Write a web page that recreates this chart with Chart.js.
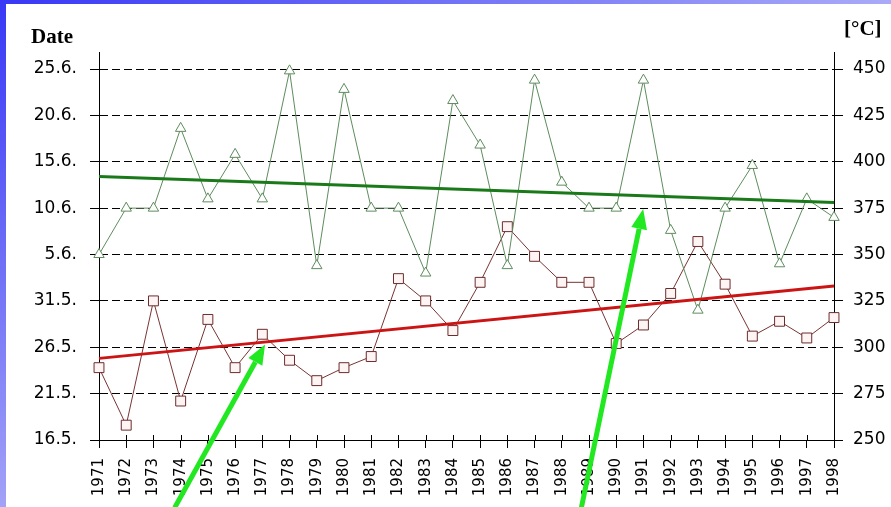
<!DOCTYPE html>
<html>
<head>
<meta charset="utf-8">
<script src="https://cdn.jsdelivr.net/npm/chart.js@4.4.1/dist/chart.umd.min.js"></script>
<style>
  html, body { margin: 0; padding: 0; background: #ffffff; }
  #wrap { position: relative; width: 891px; height: 507px; }
  canvas { display: block; }
</style>
</head>
<body>
<div id="wrap"><canvas id="c" width="891" height="507"></canvas></div>
<script>
// ---- data ----
const years = [1971,1972,1973,1974,1975,1976,1977,1978,1979,1980,1981,1982,1983,1984,
               1985,1986,1987,1988,1989,1990,1991,1992,1993,1994,1995,1996,1997,1998];
// green triangles (right axis, °C scale)
const greenValues = [350,375,375,418,380,404,380,449,344,439,375,375,340,433,
                     409,344,444,389,375,375,444,363,320,375,398,345,380,370];
// red squares
const redValues = [289,258,325,271,315,289,307,293,282,289,295,337,325,309,
                   335,365,349,335,335,302,312,329,357,334,306,314,305,316];
// linear trend lines (start, end)
const trendYears = [1971, 1998];
const greenTrend = [392, 378];
const redTrend = [294, 333];
// axis ticks
const rightTickValues = [250,275,300,325,350,375,400,425,450];
const leftTickLabels = ["16.5.","21.5.","26.5.","31.5.","5.6.","10.6.","15.6.","20.6.","25.6."];
// annotation arrows: [tailYear, tailValue, tipYear, tipValue]
const arrows = [
  [1973.78, 213.5, 1977.1, 301.5],
  [1988.72, 213.5, 1990.99, 374.5]
];

const pts = (xs, ys) => xs.map((x, i) => ({x: x, y: ys[i]}));

const framePlugin = {
  id: 'frame',
  beforeDraw(chart) {
    const ctx = chart.ctx;
    ctx.save();
    ctx.fillStyle = '#ffffff';
    ctx.fillRect(0, 0, chart.width, chart.height);
    let g = ctx.createLinearGradient(0, 0, 0, chart.height);
    g.addColorStop(0, '#3838f6');
    g.addColorStop(1, '#a2a2f8');
    ctx.fillStyle = g;
    ctx.fillRect(0, 0, 6, chart.height);
    g = ctx.createLinearGradient(0, 0, chart.width, 0);
    g.addColorStop(0, '#3838f6');
    g.addColorStop(1, '#aaaaf8');
    ctx.fillStyle = g;
    ctx.fillRect(0, 0, chart.width, 4);
    ctx.restore();
  },
  afterDraw(chart) {
    const ctx = chart.ctx;
    const xs = chart.scales.x, ys = chart.scales.y;
    const a = chart.chartArea;
    ctx.save();
    // axis extensions above plot
    ctx.strokeStyle = '#000';
    ctx.lineWidth = 1;
    ctx.beginPath();
    ctx.moveTo(a.left + 0.5, a.top - 17); ctx.lineTo(a.left + 0.5, a.top);
    ctx.moveTo(a.right + 0.5, a.top - 17); ctx.lineTo(a.right + 0.5, a.top);
    // inner parts of x ticks
    years.forEach(yr => {
      const px = Math.round(xs.getPixelForValue(yr)) + 0.5;
      ctx.moveTo(px, a.bottom - 5); ctx.lineTo(px, a.bottom);
    });
    ctx.stroke();
    // titles
    ctx.fillStyle = '#000';
    ctx.font = 'bold 21px "Liberation Serif", "Times New Roman", serif';
    ctx.textBaseline = 'alphabetic';
    ctx.textAlign = 'left';
    ctx.fillText('Date', 31, 43);
    ctx.fillText('[°C]', 844, 35);
    // arrows
    ctx.strokeStyle = '#22e822';
    ctx.fillStyle = '#22e822';
    ctx.lineWidth = 5;
    arrows.forEach(ar => {
      const x1 = xs.getPixelForValue(ar[0]), y1 = ys.getPixelForValue(ar[1]);
      const x2 = xs.getPixelForValue(ar[2]), y2 = ys.getPixelForValue(ar[3]);
      const ang = Math.atan2(y2 - y1, x2 - x1);
      const hl = 20, hw = 8;
      const bx = x2 - hl * Math.cos(ang), by = y2 - hl * Math.sin(ang);
      ctx.beginPath();
      ctx.moveTo(x1, y1); ctx.lineTo(bx, by);
      ctx.stroke();
      ctx.beginPath();
      ctx.moveTo(x2, y2);
      ctx.lineTo(bx + hw * Math.sin(ang), by - hw * Math.cos(ang));
      ctx.lineTo(bx - hw * Math.sin(ang), by + hw * Math.cos(ang));
      ctx.closePath();
      ctx.fill();
    });
    ctx.restore();
  }
};

new Chart(document.getElementById('c'), {
  type: 'line',
  data: {
    datasets: [
      { label: 'green trend', data: pts(trendYears, greenTrend), borderColor: '#1a7a1a',
        borderWidth: 3, pointRadius: 0, order: 0, clip: false },
      { label: 'red trend', data: pts(trendYears, redTrend), borderColor: '#cc1414',
        borderWidth: 3, pointRadius: 0, order: 0, clip: false },
      { label: 'green', data: pts(years, greenValues), borderColor: '#5e8c5e', borderWidth: 1,
        pointStyle: 'triangle', pointRadius: 6, pointBorderColor: '#5e8c5e',
        pointBackgroundColor: '#ffffff', pointBorderWidth: 1, order: 1, clip: false },
      { label: 'red', data: pts(years, redValues), borderColor: '#7a3434', borderWidth: 1,
        pointStyle: 'rect', pointRadius: 7, pointBorderColor: '#6a2c2c',
        pointBackgroundColor: '#fff4f4', pointBorderWidth: 1, order: 1, clip: false }
    ]
  },
  options: {
    responsive: false,
    animation: false,
    events: [],
    layout: { padding: { top: 69, left: 0, right: 0, bottom: 0 } },
    plugins: { legend: { display: false }, tooltip: { enabled: false } },
    scales: {
      x: {
        type: 'linear', min: 1971, max: 1998,
        afterFit: s => { s.height = 67; },
        afterBuildTicks: s => { s.ticks = years.map(v => ({value: v})); },
        ticks: { autoSkip: false, maxRotation: 90, minRotation: 90, padding: 10, color: '#000',
                 font: { family: '"DejaVu Sans", sans-serif', size: 15 },
                 callback: v => String(v) },
        grid: { drawOnChartArea: false, drawTicks: true, tickLength: 8, color: '#000' },
        border: { display: true, color: '#000', width: 1 }
      },
      y: {
        position: 'left', min: 250, max: 450,
        afterFit: s => { s.width = 99; },
        afterBuildTicks: s => { s.ticks = rightTickValues.map(v => ({value: v})); },
        ticks: { padding: 13, color: '#000',
                 font: { family: '"DejaVu Sans", sans-serif', size: 17 },
                 callback: (v) => leftTickLabels[rightTickValues.indexOf(v)] },
        grid: { color: '#000', lineWidth: 1, tickLength: 9, tickColor: '#000' },
        border: { display: true, color: '#000', width: 1, dash: [8, 4] }
      },
      y2: {
        position: 'right', min: 250, max: 450,
        afterFit: s => { s.width = 57; },
        afterBuildTicks: s => { s.ticks = rightTickValues.map(v => ({value: v})); },
        ticks: { padding: 10, color: '#000',
                 font: { family: '"DejaVu Sans", sans-serif', size: 17 },
                 callback: v => String(v) },
        grid: { drawOnChartArea: false, tickLength: 9, color: '#000' },
        border: { display: true, color: '#000', width: 1 }
      }
    }
  },
  plugins: [framePlugin]
});
</script>
</body>
</html>
